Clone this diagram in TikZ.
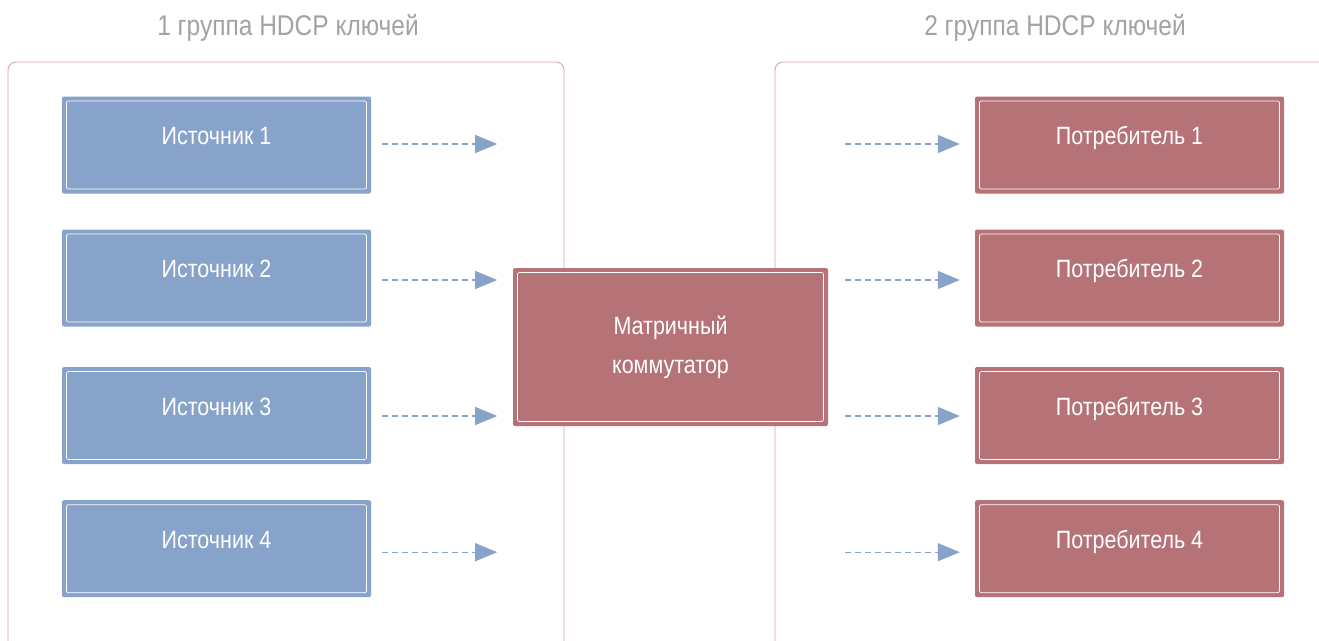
\documentclass[tikz,border=0pt]{standalone}
\usepackage{fontspec}
\setmainfont[FakeStretch=0.86]{Liberation Sans}
\usetikzlibrary{arrows.meta}
\definecolor{srcblue}{HTML}{87A3C9}
\definecolor{dstred}{HTML}{B57377}
\definecolor{grpline}{HTML}{D9A5A8}
\definecolor{titlegray}{HTML}{A3A3A3}
\tikzset{
  devbox/.style={draw=none, rounded corners=2pt, minimum width=309pt, minimum height=97pt,
    inner sep=0pt, text=white, font=\fontsize{25}{29}\selectfont, text height=17pt, text depth=18pt},
  srcbox/.style={devbox, fill=srcblue},
  dstbox/.style={devbox, fill=dstred},
  grpbox/.style={draw=grpline, line width=0.9pt, rounded corners=8pt},
  grptitle/.style={text=titlegray, font=\fontsize{28.5}{32}\selectfont, inner sep=0pt},
  flow/.style={draw=srcblue, line width=1.3pt, dash pattern=on 6pt off 4pt,
    -{Triangle[length=22pt,width=18pt]}},
  innerline/.style={draw=white, line width=0.7pt, rounded corners=2pt}
}
\begin{document}
\begin{tikzpicture}[x=1pt,y=-1pt]
\useasboundingbox[fill=white] (0,0) rectangle (1319,640);
% group frames
\draw[grpbox] (8,62) rectangle (564,660);
\draw[grpbox] (775,62) rectangle (1345,660);
\node[grptitle] (t1) at (288,28) {1 группа HDCP ключей};
\node[grptitle] (t2) at (1055,28) {2 группа HDCP ключей};
% sources
\node[srcbox] (s1) at (216.5,145) {Источник 1};
\node[srcbox] (s2) at (216.5,278) {Источник 2};
\node[srcbox] (s3) at (216.5,415.5) {Источник 3};
\node[srcbox] (s4) at (216.5,548.7) {Источник 4};
% consumers
\node[dstbox] (d1) at (1129.5,145) {Потребитель 1};
\node[dstbox] (d2) at (1129.5,278) {Потребитель 2};
\node[dstbox] (d3) at (1129.5,415.5) {Потребитель 3};
\node[dstbox] (d4) at (1129.5,548.7) {Потребитель 4};
% matrix switch
\node[draw=none, fill=dstred, rounded corners=2pt, minimum width=315pt, minimum height=158pt,
  inner sep=0pt, text=white, align=center, font=\fontsize{25}{39}\selectfont] (m) at (670.5,347)
  {Матричный\\коммутатор};
% inner white outlines
\foreach \n in {s1,s2,s3,s4,d1,d2,d3,d4,m}{
  \draw[innerline] ([shift={(4.7,4.7)}]\n.north west) rectangle ([shift={(-4.7,-4.7)}]\n.south east);
}
% arrows
\foreach \n/\dy in {s1/-1,s2/2,s3/0.5,s4/3.5}{
  \draw[flow] ([shift={(11,\dy)}]\n.east) -- ++(115,0);
}
\foreach \n/\dy in {d1/-1,d2/2,d3/0.5,d4/3.5}{
  \draw[flow] ([shift={(-130,\dy)}]\n.west) -- ([shift={(-15,\dy)}]\n.west);
}
\end{tikzpicture}
\end{document}
